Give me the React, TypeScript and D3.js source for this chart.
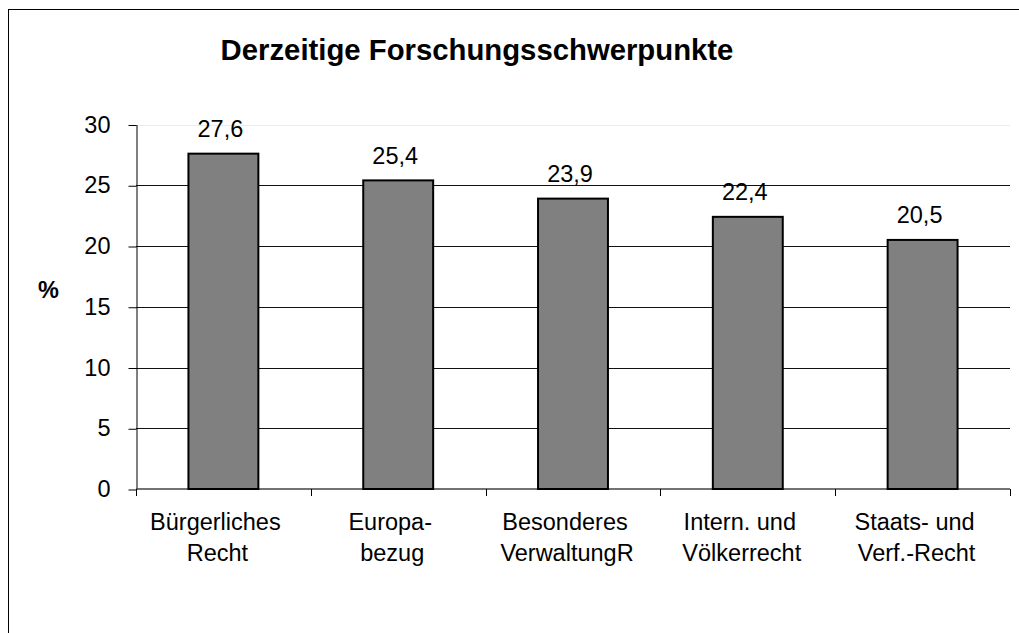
import React, { useEffect, useRef } from 'react';
import * as d3 from 'd3';

const title = 'Derzeitige Forschungsschwerpunkte';
const categories = [
  ['Bürgerliches', 'Recht'],
  ['Europa-', 'bezug'],
  ['Besonderes', 'VerwaltungR'],
  ['Intern. und', 'Völkerrecht'],
  ['Staats- und', 'Verf.-Recht'],
];
const values = [27.6, 25.4, 23.9, 22.4, 20.5];
const yTicks = [0, 5, 10, 15, 20, 25, 30];

const width = 1019;
const height = 633;
const font = '"Liberation Sans", Arial, sans-serif';

const App = () => {
  const ref = useRef<SVGSVGElement>(null);

  useEffect(() => {
    const svg = d3.select(ref.current);
    svg.selectAll('*').remove();

    const de = d3.formatLocale({ decimal: ',', thousands: '.', grouping: [3], currency: ['', ' €'] });
    const fmt = de.format('.1f');

    const x = d3.scaleBand<number>()
      .domain(d3.range(categories.length))
      .range([136, 1010])
      .paddingInner(0.6)
      .paddingOuter(0.3);
    const y = d3.scaleLinear().domain([0, 30]).range([489, 124.5]);
    const step = x.step();

    // outer frame (only left and top edge visible)
    svg.append('rect')
      .attr('x', 8.5).attr('y', 9.5)
      .attr('width', 1200).attr('height', 1000)
      .attr('fill', 'none').attr('stroke', '#000').attr('stroke-width', 1);

    svg.append('text')
      .attr('x', 477).attr('y', 60)
      .attr('text-anchor', 'middle')
      .style('font-family', font).style('font-size', '29.3px').style('font-weight', 'bold')
      .text(title);

    // gridlines
    svg.append('g').selectAll('line')
      .data(yTicks.filter(d => d > 0))
      .enter().append('line')
      .attr('x1', 136).attr('x2', 1010)
      .attr('y1', d => Math.round(y(d)) + 0.5).attr('y2', d => Math.round(y(d)) + 0.5)
      .attr('stroke', d => (d === 30 ? '#ececec' : '#111'))
      .attr('stroke-width', 1);

    // y axis
    const yAxis = svg.append('g').attr('transform', 'translate(136.5,0)')
      .call(d3.axisLeft(y).tickValues(yTicks).tickSize(8).tickPadding(18).tickSizeOuter(0));
    yAxis.select('.domain').attr('stroke', '#000');
    yAxis.selectAll('.tick line').attr('stroke', '#000').attr('transform', 'translate(0,0.5)');
    yAxis.selectAll('.tick text')
      .style('font-family', font).style('font-size', '23.5px').attr('fill', '#000');

    svg.append('text')
      .attr('x', 48.5).attr('y', 298)
      .attr('text-anchor', 'middle')
      .style('font-family', font).style('font-size', '23.5px').style('font-weight', 'bold')
      .text('%');

    // x axis baseline and category ticks
    svg.append('line')
      .attr('x1', 136).attr('x2', 1010)
      .attr('y1', y(0)).attr('y2', y(0))
      .attr('stroke', '#444').attr('stroke-width', 1.6);
    svg.append('g').selectAll('line')
      .data(d3.range(categories.length + 1))
      .enter().append('line')
      .attr('x1', i => Math.round(136 + i * step) + 0.5)
      .attr('x2', i => Math.round(136 + i * step) + 0.5)
      .attr('y1', y(0)).attr('y2', y(0) + 7)
      .attr('stroke', '#000');

    // bars
    svg.append('g').selectAll('rect')
      .data(values)
      .enter().append('rect')
      .attr('x', (d, i) => x(i)!)
      .attr('y', d => y(d))
      .attr('width', x.bandwidth())
      .attr('height', d => y(0) - y(d))
      .attr('fill', '#808080')
      .attr('stroke', '#000')
      .attr('stroke-width', 2);

    // value labels
    svg.append('g').selectAll('text')
      .data(values)
      .enter().append('text')
      .attr('x', (d, i) => x(i)! + x.bandwidth() / 2 - 3)
      .attr('y', d => y(d) - 16.5)
      .attr('text-anchor', 'middle')
      .style('font-family', font).style('font-size', '23.5px')
      .text(d => fmt(d));

    // category labels
    const cat = svg.append('g').selectAll('text')
      .data(categories)
      .enter().append('text')
      .attr('text-anchor', 'middle')
      .style('font-family', font).style('font-size', '23.5px');
    cat.selectAll('tspan')
      .data((d, i) => d.map((line, j) => ({ line, j, i })))
      .enter().append('tspan')
      .attr('x', d => x(d.i)! + x.bandwidth() / 2 - (d.j === 0 ? 8 : 6))
      .attr('y', d => 530 + d.j * 31)
      .text(d => d.line);
  }, []);

  return (
    <svg ref={ref} width={width} height={height}
      style={{ position: 'absolute', left: 0, top: 0, background: '#fff' }} />
  );
};

export default App;
